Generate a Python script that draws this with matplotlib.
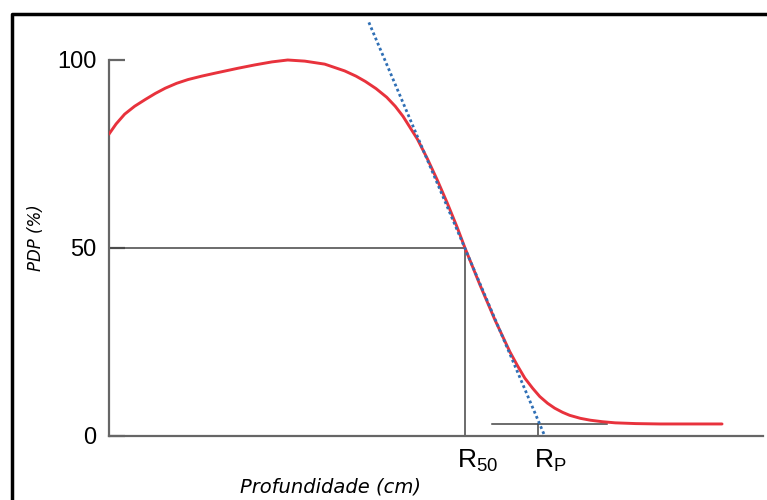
import matplotlib
matplotlib.use("Agg")
import matplotlib.pyplot as plt
from matplotlib.lines import Line2D

# depth (cm) and percent depth dose (%)
depth = [0.00, 0.10, 0.22, 0.36, 0.51, 0.65, 0.79, 0.95, 1.11, 1.30, 1.49,
         1.81, 2.05, 2.29, 2.51, 2.75, 3.03, 3.31, 3.47, 3.60, 3.75, 3.90,
         4.02, 4.13, 4.33, 4.47, 4.61, 4.75, 4.89, 5.00, 5.21, 5.42, 5.63,
         5.74, 5.84, 5.95, 6.05, 6.16, 6.26, 6.37, 6.47, 6.62, 6.76, 6.93,
         7.11, 7.40, 7.74, 8.61]
pdp = [80.3, 83.0, 85.6, 87.7, 89.5, 91.1, 92.5, 93.8, 94.8, 95.7, 96.5,
       97.8, 98.7, 99.5, 100.0, 99.7, 98.9, 97.1, 95.7, 94.3, 92.4, 90.1,
       87.7, 85.0, 79.0, 73.8, 68.1, 62.0, 55.5, 50.0, 40.2, 30.9, 22.4,
       18.6, 15.4, 12.7, 10.5, 8.7, 7.4, 6.3, 5.5, 4.7, 4.2, 3.8,
       3.5, 3.3, 3.2, 3.2]

# tangent through the R50 point
tangent_x = [3.65, 6.12]
tangent_y = [110.0, 0.0]

r50 = 5.00
rp = 6.03
brems_level = 3.2
brems_x = [5.38, 7.0]

yticks = [0, 50, 100]

fig = plt.figure(figsize=(7.67, 5.0), dpi=100)
ax = fig.add_axes([109 / 767, 64 / 500, 654 / 767, 422 / 500])
ax.set_xlim(0, 654 / 71.2)
ax.set_ylim(0, 422 / 3.76)

for s in ["top", "right"]:
    ax.spines[s].set_visible(False)
for s in ["left", "bottom"]:
    ax.spines[s].set_color("#666666")
    ax.spines[s].set_linewidth(1.6)
ax.spines["left"].set_bounds(0, 100)

ax.set_xticks([])
ax.set_yticks(yticks)
ax.set_yticklabels([str(t) for t in yticks], fontsize=17, family="Liberation Sans")
ax.tick_params(axis="y", direction="in", length=11.5, width=1.6, color="#666666", pad=9)

# guide lines
ax.plot([0, r50], [50, 50], color="#444444", lw=1.1)
ax.plot([r50, r50], [0, 50], color="#444444", lw=1.1)
ax.plot(brems_x, [brems_level, brems_level], color="#444444", lw=1.1)
ax.plot([rp, rp], [0, brems_level], color="#444444", lw=1.1)

ax.plot(depth, pdp, color="#e8323c", lw=2.1, solid_joinstyle="round",
        solid_capstyle="round", zorder=3)
ax.plot(tangent_x, tangent_y, color="#2f6fb5", lw=2.0, linestyle=(0, (1, 1)),
        clip_on=False, zorder=4)

ax.text(r50 + 0.17, -3.2, r"$\mathregular{R_{50}}$", fontsize=19, family="Liberation Sans",
        ha="center", va="top")
ax.text(rp + 0.17, -3.2, r"$\mathregular{R_{P}}$", fontsize=19, family="Liberation Sans",
        ha="center", va="top")

fig.text(36 / 767, 1 - 238 / 500, "PDP (%)", rotation=90, style="italic",
         fontsize=12, family="DejaVu Sans", ha="center", va="center")
fig.text(330 / 767, 1 - 487 / 500, "Profundidade (cm)", style="italic",
         fontsize=14, family="DejaVu Sans", ha="center", va="center")

# frame around the figure (top and left visible)
fx = 12 / 767
fy = 1 - 14 / 500
fig.add_artist(Line2D([fx, fx, 1], [0, fy, fy], transform=fig.transFigure,
                      color="black", lw=2.5))

fig.savefig("out.png", dpi=100)
